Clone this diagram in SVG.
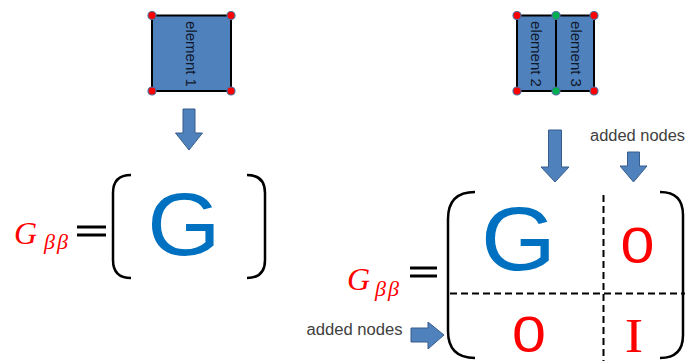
<svg xmlns="http://www.w3.org/2000/svg" width="685" height="361" viewBox="0 0 685 361">
<style>
.box{fill:#4F81BD;stroke:#000;stroke-width:2}
.el{font-family:"Liberation Sans",Arial,sans-serif;font-size:15px;fill:#10182a;text-anchor:middle}
.red{fill:#FF0000;stroke:#4F6FA0;stroke-width:1.2}
.grn{fill:#00B050;stroke:#4F6FA0;stroke-width:1.2}
.arr{fill:#4F81BD;stroke:#385D8A;stroke-width:1}
.lbl{font-family:"Liberation Sans",Arial,sans-serif;font-size:16px;fill:#404040}
.bigG{font-family:"Liberation Sans",Arial,sans-serif;fill:#0070C0;text-anchor:middle}
.math{font-family:"Liberation Serif","Times New Roman",serif;font-style:italic;fill:#FF0000}
.num{font-family:"Liberation Sans",Arial,sans-serif;fill:#FF0000;text-anchor:middle;font-size:50px}
.brk{fill:none;stroke:#000;stroke-width:2.5}
.eq{stroke:#000;stroke-width:3}
.dash{stroke:#000;stroke-width:2;stroke-dasharray:7 4;fill:none}
</style>
<g id="element1">
<rect class="box" x="152" y="15.5" width="79" height="75.5"/>
<text class="el" transform="translate(186,54) rotate(90)">element 1</text>
<circle class="red" cx="152" cy="15.5" r="4"/>
<circle class="red" cx="231" cy="15.5" r="4"/>
<circle class="red" cx="152" cy="91" r="4"/>
<circle class="red" cx="231" cy="91" r="4"/>
</g>
<g id="element23">
<rect class="box" x="517" y="15.5" width="39" height="75.5"/>
<rect class="box" x="556" y="15.5" width="38" height="75.5"/>
<text class="el" transform="translate(531,54) rotate(90)">element 2</text>
<text class="el" transform="translate(571,54) rotate(90)">element 3</text>
<circle class="red" cx="517" cy="15.5" r="4"/>
<circle class="grn" cx="556" cy="15.5" r="4"/>
<circle class="red" cx="594" cy="15.5" r="4"/>
<circle class="red" cx="517" cy="91" r="4"/>
<circle class="grn" cx="556" cy="91" r="4"/>
<circle class="red" cx="594" cy="91" r="4"/>
</g>
<g id="connectors">
<polygon class="arr" points="183,109 195,109 195,133 202.5,133 189,150 175.5,133 183,133"/>
<polygon class="arr" points="548.5,130 561.5,130 561.5,167 569,167 555,182 541,167 548.5,167"/>
<polygon class="arr" points="627.5,152 639.5,152 639.5,166 647,166 633.5,182 620,166 627.5,166"/>
<polygon class="arr" points="411,328 428,328 428,322 444,335 428,349 428,342 411,342"/>
</g>
<g id="labels">
<text class="lbl" x="590" y="141" textLength="95" lengthAdjust="spacingAndGlyphs">added nodes</text>
<text class="lbl" x="306.5" y="335" textLength="96" lengthAdjust="spacingAndGlyphs">added nodes</text>
</g>
<g id="matrix1">
<text class="math" x="14" y="243.5" font-size="32">G</text>
<text class="math" x="44" y="249" font-size="22" letter-spacing="2">ββ</text>
<line class="eq" x1="77" y1="227" x2="106" y2="227"/>
<line class="eq" x1="77" y1="235" x2="106" y2="235"/>
<path class="brk" d="M131,175 Q113,175 113,193 L113,260 Q113,278 131,278"/>
<path class="brk" d="M247,175 Q265,175 265,193 L265,260 Q265,278 247,278"/>
<text class="bigG" transform="translate(184,255) scale(1.06,1)" font-size="89">G</text>
</g>
<g id="matrix2">
<text class="math" x="347" y="290" font-size="32">G</text>
<text class="math" x="375" y="296" font-size="22" letter-spacing="2">ββ</text>
<line class="eq" x1="410" y1="268" x2="437" y2="268"/>
<line class="eq" x1="410" y1="276" x2="437" y2="276"/>
<path class="brk" d="M475,192 Q448,192 448,219 L448,331 Q448,358 475,358"/>
<path class="brk" d="M660,192 Q683,192 683,215 L683,335 Q683,358 660,358"/>
<line class="dash" x1="603.5" y1="195" x2="603.5" y2="361"/>
<line class="dash" x1="450" y1="293.5" x2="685" y2="293.5"/>
<text class="bigG" transform="translate(518.5,270) scale(1.06,1)" font-size="91">G</text>
<text class="num" transform="translate(637.5,263) scale(1.22,1)">0</text>
<text class="num" transform="translate(529,352) scale(1.22,1)">0</text>
<text transform="translate(634,352) scale(1.15,1)" font-size="48" fill="#FF0000" text-anchor="middle" font-family="'Liberation Serif','Times New Roman',serif">I</text>
</g>
</svg>
